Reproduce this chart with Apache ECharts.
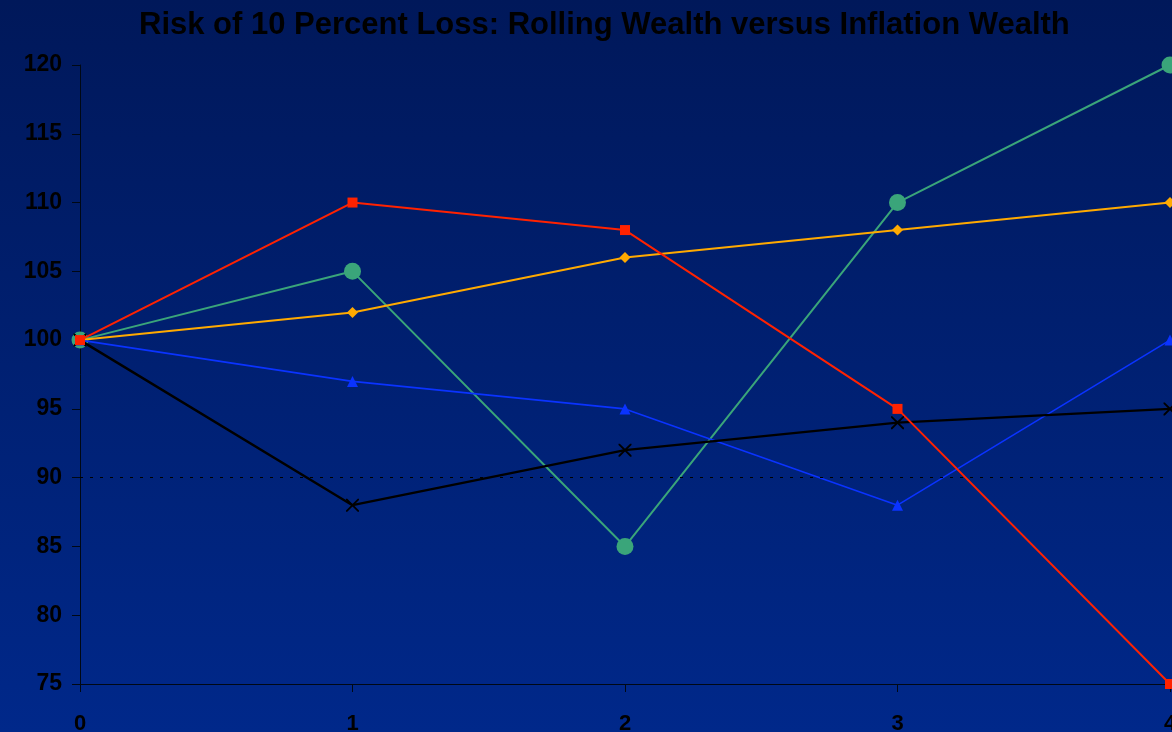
<!DOCTYPE html>
<html>
<head>
<meta charset="utf-8">
<title>Rolling Wealth</title>
<script src="https://cdn.jsdelivr.net/npm/echarts@6/dist/echarts.min.js"></script>
<style>
  html, body { margin: 0; padding: 0; width: 1172px; height: 732px; overflow: hidden; }
  body { background: linear-gradient(to bottom, #00185a 0%, #00288a 100%); }
  #chart { width: 1172px; height: 732px; }
</style>
</head>
<body>
<div id="chart"></div>
<script>
// Periods along the horizontal axis
const periods = ['0', '1', '2', '3', '4'];

// Wealth index per path, every path starting at 100
const greenPath  = [100, 105, 85, 110, 120];
const orangePath = [100, 102, 106, 108, 110];
const bluePath   = [100, 97, 95, 88, 100];
const blackPath  = [100, 88, 92, 94, 95];
const redPath    = [100, 110, 108, 95, 75];

// Loss threshold (10 percent below the starting wealth)
const lossLevel = 90;

// Value axis range
const yMin = 75, yMax = 120, yStep = 5;

const titleText = 'Risk of 10 Percent Loss: Rolling Wealth versus Inflation Wealth';

const crossSymbol = 'path://M0,0L1,0L5,4L9,0L10,0L10,1L6,5L10,9L10,10L9,10L5,6L1,10L0,10L0,9L4,5L0,1Z';

function lineSeries(name, data, color, symbol, size, width) {
  return {
    name: name,
    type: 'line',
    data: data,
    symbol: symbol,
    symbolSize: size,
    showAllSymbol: true,
    lineStyle: { color: color, width: width },
    itemStyle: { color: color },
    emphasis: { disabled: true },
    animation: false
  };
}

const chart = echarts.init(document.getElementById('chart'), null, { renderer: 'canvas' });

const seriesList = [
  lineSeries('Green', greenPath, '#3aa57a', 'circle', 17, 2),
  lineSeries('Orange', orangePath, '#ffaa00', 'diamond', 11, 2),
  lineSeries('Blue', bluePath, '#0a33ff', 'triangle', 11, 1.6),
  lineSeries('Black', blackPath, '#000000', crossSymbol, 13, 2.4),
  lineSeries('Red', redPath, '#ff2200', 'rect', 10, 2)
];

// Dotted reference line at the loss threshold
seriesList[0].markLine = {
  silent: true,
  symbol: 'none',
  label: { show: false },
  lineStyle: { color: '#000000', type: [3, 7], width: 1 },
  data: [{ yAxis: lossLevel }],
  animation: false
};
seriesList[0].z = 2;

chart.setOption({
  backgroundColor: 'transparent',
  animation: false,
  title: {
    text: titleText,
    left: 134,
    top: 5,
    textStyle: {
      fontFamily: 'Liberation Sans',
      fontWeight: 'bold',
      fontSize: 31,
      color: '#000000'
    }
  },
  grid: { left: 80, right: 2, top: 65, bottom: 48, containLabel: false, outerBoundsMode: 'none' },
  xAxis: {
    type: 'category',
    data: periods,
    boundaryGap: false,
    axisLine: { lineStyle: { color: '#000814', width: 1 } },
    axisTick: { show: true, length: 8, alignWithLabel: true, lineStyle: { color: '#000814' } },
    axisLabel: {
      margin: 29,
      fontFamily: 'Liberation Sans',
      fontWeight: 'bold',
      fontSize: 22,
      color: '#000000'
    },
    splitLine: { show: false }
  },
  yAxis: {
    type: 'value',
    min: yMin,
    max: yMax,
    interval: yStep,
    axisLine: { show: true, lineStyle: { color: '#000814', width: 1 } },
    axisTick: { show: true, length: 8, lineStyle: { color: '#000814' } },
    axisLabel: {
      margin: 18,
      fontFamily: 'Liberation Sans',
      fontWeight: 'bold',
      fontSize: 23,
      color: '#000000'
    },
    splitLine: { show: false }
  },
  series: seriesList
});
</script>
</body>
</html>
